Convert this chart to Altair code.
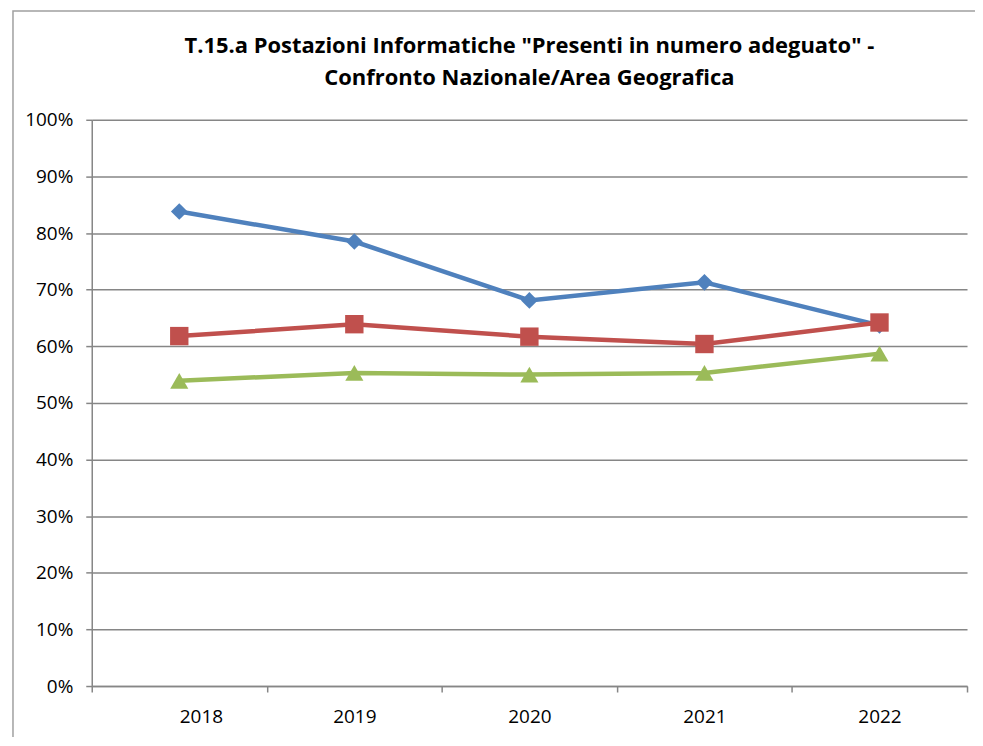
import altair as alt
import pandas as pd

years = [2018, 2019, 2020, 2021, 2022]
series_names = ["Nazionale", "Area Geografica", "Regione"]
blue_vals = [0.838, 0.785, 0.681, 0.713, 0.637]
red_vals = [0.618, 0.639, 0.617, 0.604, 0.642]
green_vals = [0.539, 0.553, 0.550, 0.553, 0.587]
colors = ["#4F81BD", "#C0504D", "#9BBB59"]
shapes = ["diamond", "square", "triangle-up"]
marker_sizes = [280, 340, 330]
x_tick_positions = [2017.5, 2018.5, 2019.5, 2020.5, 2021.5, 2022.5]

FONT = "Open Sans"
GRID = "#868686"

W, H = 878, 568
xscale = alt.Scale(domain=[2017.5, 2022.5], nice=False, zero=False)
yscale = alt.Scale(domain=[0, 1], nice=False)

x_axis = alt.Axis(
    values=x_tick_positions,
    labelExpr="datum.value < 2022 ? format(datum.value + 0.5, 'd') : ''",
    labelOffset=W / 10,
    tickSize=6, tickColor=GRID, tickWidth=1.5,
    domainColor=GRID, domainWidth=1.5,
    grid=False, title=None,
    labelFont=FONT, labelFontSize=19, labelColor="#000000", labelPadding=16,
)
y_axis = alt.Axis(
    values=[i / 10 for i in range(11)], format=".0%",
    tickSize=6, tickColor=GRID, tickWidth=1.5,
    domainColor=GRID, domainWidth=1.5,
    grid=True, gridColor=GRID, gridWidth=1.5,
    title=None, labelFont=FONT, labelFontSize=19, labelColor="#000000", labelPadding=13,
)

layers = []
# outer frame
frame = alt.Chart(pd.DataFrame({"a": [0]})).mark_rect(
    fill=None, stroke="#A0A0A0", strokeWidth=1.5, clip=False
).encode(
    x=alt.value(-79), x2=alt.value(900), y=alt.value(-109), y2=alt.value(700)
)
layers.append(frame)

base_axes = alt.Chart(pd.DataFrame({"year": years, "v": blue_vals})).mark_point(opacity=0).encode(
    x=alt.X("year:Q", scale=xscale, axis=x_axis),
    y=alt.Y("v:Q", scale=yscale, axis=y_axis),
)
layers.append(base_axes)

for name, vals, col, shp, sz in zip(series_names, [blue_vals, red_vals, green_vals], colors, shapes, marker_sizes):
    df = pd.DataFrame({"year": years, "v": vals, "serie": name})
    line = alt.Chart(df).mark_line(color=col, strokeWidth=4.5).encode(
        x=alt.X("year:Q", scale=xscale), y=alt.Y("v:Q", scale=yscale)
    )
    pts = alt.Chart(df).mark_point(shape=shp, size=sz, filled=True, color=col, opacity=1).encode(
        x=alt.X("year:Q", scale=xscale), y=alt.Y("v:Q", scale=yscale)
    )
    layers += [line, pts]

chart = alt.layer(*layers).properties(
    width=W, height=H,
    autosize=alt.AutoSizeParams(type="none"),
    padding={"left": 84, "top": 111, "right": 8, "bottom": 50},
    title=alt.TitleParams(
        text=['T.15.a Postazioni Informatiche "Presenti in numero adeguato" -',
              "Confronto Nazionale/Area Geografica"],
        font=FONT, fontSize=22, fontWeight="bold", color="#000000",
        anchor="middle", offset=-80, lineHeight=32,
    ),
).configure_view(stroke=None)

chart.save("out.html", embed_options={"renderer": "svg", "actions": False})
